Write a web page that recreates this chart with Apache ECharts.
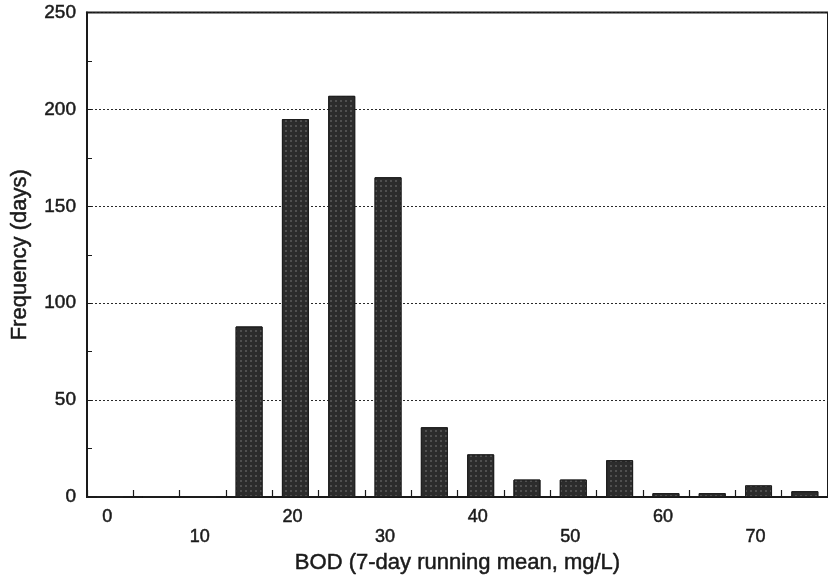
<!DOCTYPE html>
<html>
<head>
<meta charset="utf-8">
<script src="https://cdn.jsdelivr.net/npm/echarts@6/dist/echarts.min.js"></script>
<style>
  html, body { margin: 0; padding: 0; background: #fff; }
  #chart { width: 828px; height: 580px; }
</style>
</head>
<body>
<div id="chart"></div>
<script>
// BOD bins (mg/L, 7-day running mean), 5 mg/L wide
const binLabels = ['0', '5', '10', '15', '20', '25', '30', '35', '40', '45', '50', '55', '60', '65', '70', '75'];
// Number of days falling in each bin
const frequencyDays = [0, 0, 0, 88, 195, 207, 165, 36, 22, 9, 9, 19, 2, 2, 6, 3];
// Labelled bins; every second one drops to a lower row
const upperRowLabels = ['0', '20', '40', '60'];
const lowerRowLabels = ['10', '30', '50', '70'];

const ink = '#1a1a1a';
const font = '"Liberation Sans", Arial, sans-serif';
// a faint outline thickens the text a little
const heavyText = { textBorderColor: ink, textBorderWidth: 0.5 };

const chart = echarts.init(document.getElementById('chart'), null, { renderer: 'canvas' });

chart.setOption({
  animation: false,
  backgroundColor: '#fff',
  grid: {
    left: 87,
    right: -6,
    top: 12.5,
    bottom: 83,
    show: true,
    borderColor: ink,
    borderWidth: 2,
    backgroundColor: 'transparent'
  },
  xAxis: {
    type: 'category',
    data: binLabels,
    name: 'BOD (7-day running mean, mg/L)',
    nameLocation: 'middle',
    nameGap: 51,
    nameTextStyle: Object.assign({ fontFamily: font, fontSize: 22, color: ink }, heavyText),
    axisLine: { lineStyle: { color: ink, width: 2 } },
    axisTick: { show: true, inside: true, length: 7, interval: 0, lineStyle: { color: ink, width: 1.2 } },
    axisLabel: Object.assign({
      interval: 0,
      margin: 10,
      fontFamily: font,
      fontSize: 18,
      color: ink,
      lineHeight: 20,
      padding: [0, 6, 0, 0],
      formatter: function (v) {
        if (upperRowLabels.indexOf(v) >= 0) return v;
        if (lowerRowLabels.indexOf(v) >= 0) return '\n' + v;
        return '';
      }
    }, heavyText),
    splitLine: { show: false }
  },
  yAxis: {
    type: 'value',
    min: 0,
    max: 250,
    interval: 50,
    name: 'Frequency (days)',
    nameLocation: 'middle',
    nameGap: 56,
    nameTextStyle: Object.assign({ fontFamily: font, fontSize: 22, color: ink }, heavyText),
    axisLine: { show: true, lineStyle: { color: ink, width: 2 } },
    axisTick: { show: true, inside: true, length: 5, lineStyle: { color: ink } },
    minorTick: { show: true, splitNumber: 2, length: 5, lineStyle: { color: ink } },
    axisLabel: Object.assign({ fontFamily: font, fontSize: 19, color: ink, margin: 11 }, heavyText),
    splitLine: { show: true, lineStyle: { color: '#2a2a2a', type: [2, 2], width: 1 } }
  },
  series: [{
    type: 'bar',
    data: frequencyDays,
    barWidth: 27,
    itemStyle: {
      color: '#2c2c2c',
      borderColor: '#1e1e1e',
      borderWidth: 1,
      decal: {
        symbol: 'circle',
        symbolSize: 0.7,
        color: 'rgba(215,215,215,0.6)',
        dashArrayX: [2, 2.5],
        dashArrayY: [2, 2.5],
        rotation: 0
      }
    }
  }]
});
</script>
</body>
</html>
